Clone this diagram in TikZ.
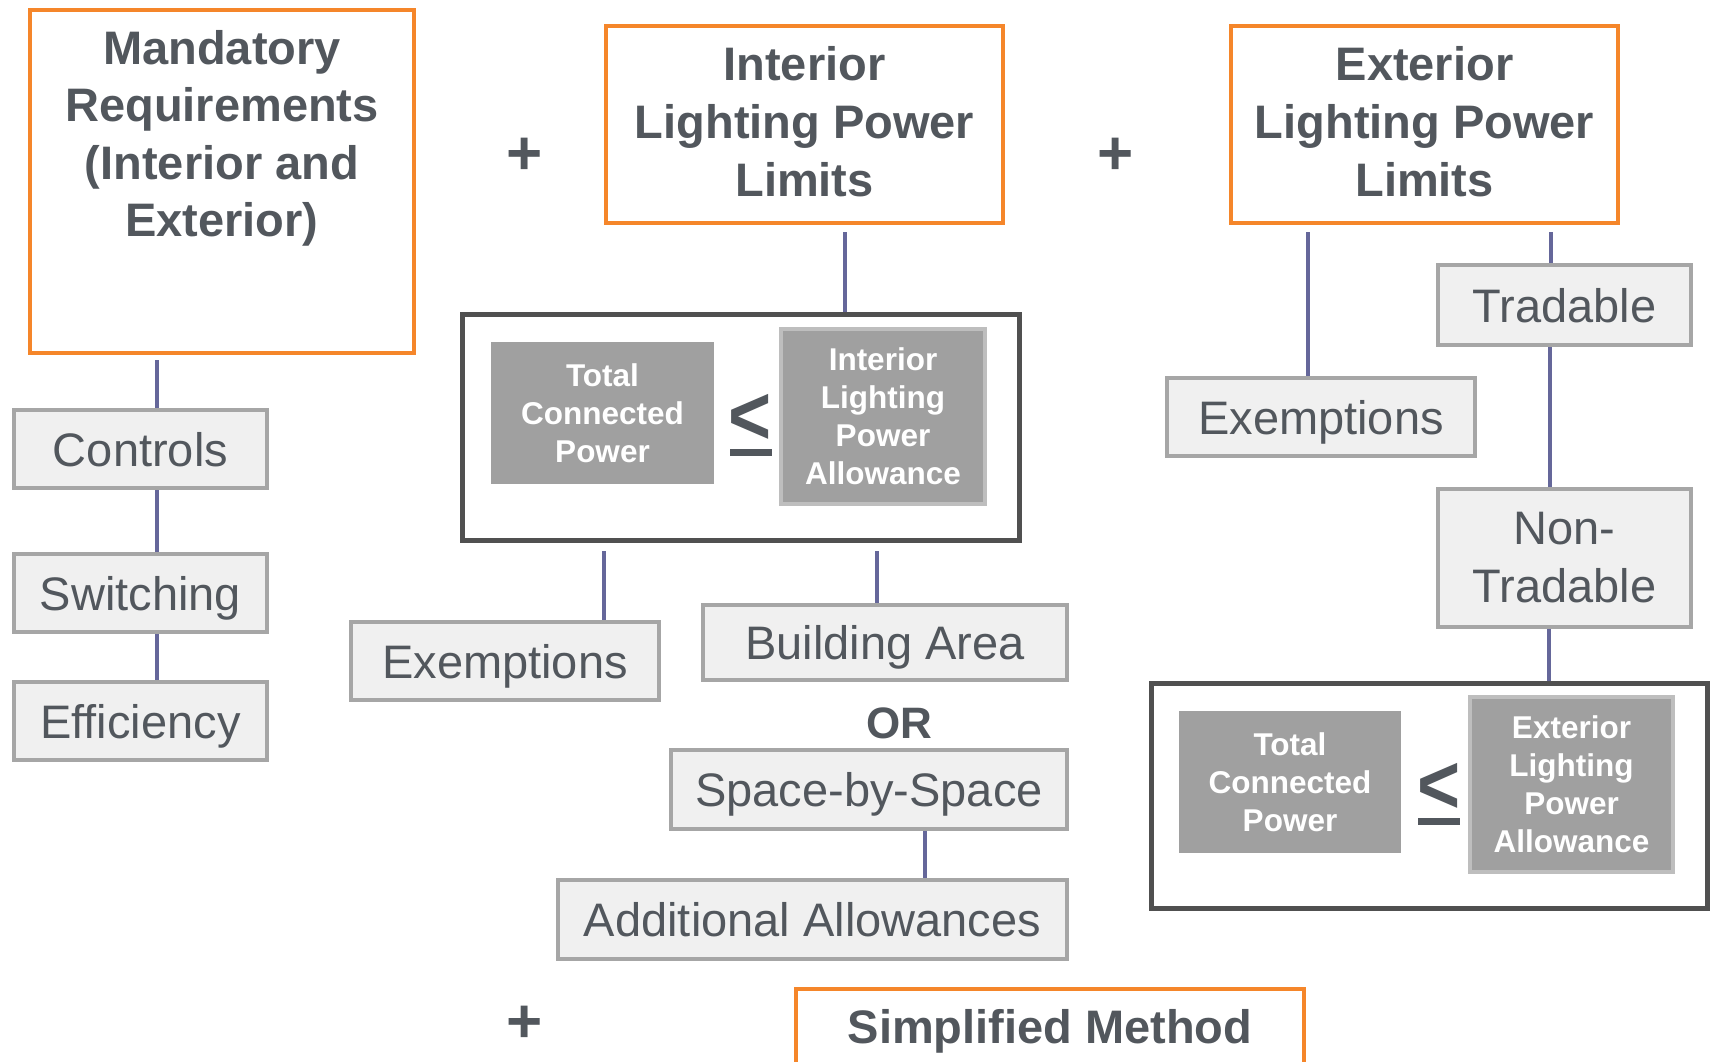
\documentclass[tikz,border=0pt]{standalone}
\usepackage{fontspec}
\setmainfont{Liberation Sans}
\usetikzlibrary{backgrounds}
\definecolor{txt}{RGB}{82,87,93}
\definecolor{orng}{RGB}{245,134,42}
\definecolor{conn}{RGB}{101,103,154}
\definecolor{lfill}{RGB}{240,240,240}
\definecolor{lbord}{RGB}{166,166,166}
\definecolor{dbord}{RGB}{80,80,80}
\definecolor{gfill}{RGB}{160,160,160}
\definecolor{gbord}{RGB}{190,190,190}
\tikzset{
  orbox/.style={draw=orng, line width=4pt, fill=white, inner sep=0pt, text=txt,
    font=\bfseries\fontsize{47}{58}\selectfont, align=center},
  titletxt/.style={text=txt, font=\bfseries\fontsize{47}{58}\selectfont, align=center, inner sep=0pt},
  lbox/.style={draw=lbord, line width=4pt, fill=lfill, inner sep=0pt, text=txt,
    font=\fontsize{47}{58}\selectfont, align=center},
  oneline/.style={text height=34pt, text depth=0pt},
  frmbox/.style={draw=dbord, line width=5pt, fill=white, inner sep=0pt},
  gbox/.style={fill=gfill, inner sep=0pt, text=white,
    font=\bfseries\fontsize{31.5}{38}\selectfont, align=center},
  gboxb/.style={gbox, draw=gbord, line width=4pt},
  ln/.style={draw=conn, line width=4pt},
  plus/.style={text=txt, font=\bfseries\fontsize{62}{62}\selectfont, inner sep=0pt},
  lt/.style={text=txt, font=\bfseries\fontsize{82}{82}\selectfont, inner sep=0pt, anchor=center},
  bartip/.style={fill=txt, draw=none, inner sep=0pt, minimum width=42pt, minimum height=7pt},
  ortxt/.style={text=txt, font=\bfseries\fontsize{44}{44}\selectfont, inner sep=0pt}
}
\begin{document}
\begin{tikzpicture}[x=1pt,y=-1pt]
\useasboundingbox (0,0) rectangle (1714,1061);

% connector x positions
\coordinate (xa) at (157,0);
\coordinate (xb) at (845,0);
\coordinate (xc) at (604,0);
\coordinate (xd) at (877,0);
\coordinate (xe) at (925,0);
\coordinate (xf) at (1308,0);
\coordinate (xg) at (1551,0);
\coordinate (xh) at (1550,0);
\coordinate (xi) at (1549,0);

% top boxes
\node[orbox, minimum width=384pt, minimum height=343pt] (mand) at (222,181.5) {};
\node[titletxt, font=\bfseries\fontsize{47}{57.5}\selectfont] (mandtxt) at (222,138.4) {Mandatory\\Requirements\\(Interior and\\Exterior)};
\node[orbox, minimum width=397pt, minimum height=197pt] (intr) at (804.5,124.5) {};
\node[titletxt] (intrtxt) at (804.5,121.2) {Interior\\Lighting Power\\Limits};
\node[orbox, minimum width=387pt, minimum height=197pt] (extr) at (1424.5,124.5) {};
\node[titletxt] (extrtxt) at (1424.5,121.2) {Exterior\\Lighting Power\\Limits};
\node[plus] (p1) at (525,156) {+};
\node[plus] (p2) at (1116,156) {+};
\node[plus] (p3) at (525,1024) {+};

% left column
\node[lbox, oneline, minimum width=253pt, minimum height=78pt] (ctrl) at (140.5,449) {Controls};
\node[lbox, oneline, minimum width=253pt, minimum height=78pt] (swit) at (140.5,593) {Switching};
\node[lbox, oneline, minimum width=253pt, minimum height=78pt] (effi) at (140.5,721) {Efficiency};

% interior formula
\node[frmbox, minimum width=557pt, minimum height=226pt] (iform) at (741,427.5) {};
\node[gbox, minimum width=223pt, minimum height=142pt] (itcp) at (602.5,413) {Total\\Connected\\Power};
\node[gboxb, minimum width=204pt, minimum height=175pt] (ilpa) at (883,416.5) {Interior\\Lighting\\Power\\Allowance};
\node[lt] (ilt) at (750,419) {\scalebox{0.9}[1.02]{<}};
\node[bartip] (ibar) at (751,452.5) {};

% interior children
\node[lbox, oneline, minimum width=308pt, minimum height=78pt] (iexm) at (505,661) {Exemptions};
\node[lbox, oneline, minimum width=364pt, minimum height=75pt] (barea) at (885,642.5) {Building Area};
\node[ortxt] (or) at (899,723) {OR};
\node[lbox, oneline, minimum width=396pt, minimum height=79pt] (sbs) at (869,789.5) {Space-by-Space};
\node[lbox, oneline, minimum width=509pt, minimum height=79pt] (addl) at (812.5,919.5) {Additional Allowances};
\node[orbox, oneline, minimum width=508pt, minimum height=75pt] (simp) at (1050,1026.5) {Simplified Method};

% exterior side
\node[lbox, oneline, minimum width=308pt, minimum height=78pt] (eexm) at (1321,417) {Exemptions};
\node[lbox, oneline, minimum width=253pt, minimum height=80pt] (trad) at (1564.5,305) {Tradable};
\node[lbox, minimum width=253pt, minimum height=138pt] (ntrad) at (1564.5,558) {Non-\\Tradable};

\node[frmbox, minimum width=556pt, minimum height=225pt] (eform) at (1429.5,796) {};
\node[gbox, minimum width=222pt, minimum height=142pt] (etcp) at (1290,782) {Total\\Connected\\Power};
\node[gboxb, minimum width=203pt, minimum height=175pt] (elpa) at (1571.5,784.5) {Exterior\\Lighting\\Power\\Allowance};
\node[lt] (elt) at (1439,788) {\scalebox{0.9}[1.02]{<}};
\node[bartip] (ebar) at (1438.5,821.5) {};

% connectors behind boxes
\begin{scope}[on background layer]
\fill[white] (0,0) rectangle (1714,1061);
\draw[ln, shorten <=5pt] (mand.south -| xa) -- (ctrl.north -| xa);
\draw[ln] (ctrl.south -| xa) -- (swit.north -| xa);
\draw[ln] (swit.south -| xa) -- (effi.north -| xa);
\draw[ln, shorten <=7pt] (intr.south -| xb) -- (iform.north -| xb);
\draw[ln, shorten <=8pt] (iform.south -| xc) -- (iexm.north -| xc);
\draw[ln, shorten <=8pt] (iform.south -| xd) -- (barea.north -| xd);
\draw[ln] (sbs.south -| xe) -- (addl.north -| xe);
\draw[ln, shorten <=7pt] (extr.south -| xf) -- (eexm.north -| xf);
\draw[ln, shorten <=7pt] (extr.south -| xg) -- (trad.north -| xg);
\draw[ln] (trad.south -| xh) -- (ntrad.north -| xh);
\draw[ln] (ntrad.south -| xi) -- (eform.north -| xi);
\end{scope}
\end{tikzpicture}
\end{document}
